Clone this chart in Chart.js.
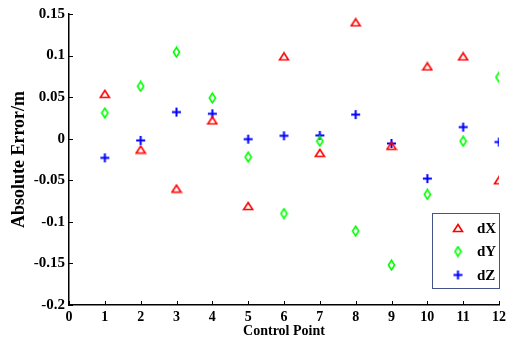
<!DOCTYPE html>
<html>
<head>
<meta charset="utf-8">
<script src="https://cdn.jsdelivr.net/npm/chart.js@4/dist/chart.umd.min.js"></script>
<style>
  html, body { margin: 0; padding: 0; background: #fff; }
  #chart { display: block; }
</style>
</head>
<body>
<canvas id="chart" width="507" height="342"></canvas>
<script>
const controlPoints = [1, 2, 3, 4, 5, 6, 7, 8, 9, 10, 11, 12]
const dX = [0.054, -0.013, -0.060, 0.022, -0.081, 0.099, -0.017, 0.140, -0.0085, 0.087, 0.099, -0.050]
const dY = [0.031, 0.063, 0.104, 0.049, -0.022, -0.090, -0.003, -0.111, -0.152, -0.067, -0.003, 0.074]
const dZ = [-0.023, -0.002, 0.032, 0.030, -0.0005, 0.0035, 0.004, 0.029, -0.0057, -0.048, 0.014, -0.004]
const seriesNames = ["dX", "dY", "dZ"]
const xTicks = [0, 1, 2, 3, 4, 5, 6, 7, 8, 9, 10, 11, 12]
const yTicks = [-0.2, -0.15, -0.1, -0.05, 0, 0.05, 0.1, 0.15]

const font = "'Liberation Serif', 'Times New Roman', serif"

// marker images, drawn once
function makeMarker(w, h, draw) {
  const c = document.createElement("canvas")
  c.width = w
  c.height = h
  draw(c.getContext("2d"))
  return c
}

const triangle = makeMarker(12, 10, ctx => {
  ctx.strokeStyle = "#ff0000"
  ctx.lineWidth = 1.6
  ctx.beginPath()
  ctx.moveTo(6, 1.5)
  ctx.lineTo(10.5, 8.5)
  ctx.lineTo(1.5, 8.5)
  ctx.closePath()
  ctx.stroke()
})

const diamond = makeMarker(9, 12, ctx => {
  ctx.strokeStyle = "#00ff00"
  ctx.lineWidth = 1.6
  ctx.beginPath()
  ctx.moveTo(4.5, 1.2)
  ctx.lineTo(7.6, 6)
  ctx.lineTo(4.5, 10.8)
  ctx.lineTo(1.4, 6)
  ctx.closePath()
  ctx.stroke()
})

const plus = makeMarker(11, 11, ctx => {
  ctx.strokeStyle = "#0000ff"
  ctx.lineWidth = 2
  ctx.beginPath()
  ctx.moveTo(1, 5.5)
  ctx.lineTo(10, 5.5)
  ctx.moveTo(5.5, 1)
  ctx.lineTo(5.5, 10)
  ctx.stroke()
})

const markers = [triangle, diamond, plus]

function toPoints(values) {
  return controlPoints.map((x, i) => ({ x: x, y: values[i] }))
}

// ticks pointing into the plot
const innerTicks = {
  id: "innerTicks",
  afterDraw(chart) {
    const ctx = chart.ctx
    const xs = chart.scales.x
    const ys = chart.scales.y
    ctx.save()
    ctx.strokeStyle = "#000"
    ctx.lineWidth = 1
    ctx.beginPath()
    xs.ticks.forEach((t, i) => {
      const px = Math.round(xs.getPixelForTick(i)) + 0.5
      ctx.moveTo(px, xs.top)
      ctx.lineTo(px, xs.top - 4)
    })
    ys.ticks.forEach((t, i) => {
      const py = Math.round(ys.getPixelForTick(i)) + 0.5
      ctx.moveTo(ys.right, py)
      ctx.lineTo(ys.right + 4, py)
    })
    ctx.stroke()
    ctx.restore()
  }
}

// legend box inside the plot, lower right
const boxLegend = {
  id: "boxLegend",
  afterDraw(chart) {
    const ctx = chart.ctx
    const area = chart.chartArea
    const left = area.right - 67
    const top = area.bottom - 92
    ctx.save()
    ctx.fillStyle = "#fff"
    ctx.fillRect(left, top, 67, 75)
    ctx.strokeStyle = "#44548a"
    ctx.lineWidth = 1
    ctx.strokeRect(left + 0.5, top + 0.5, 67, 75)
    ctx.font = "bold 15px " + font
    ctx.fillStyle = "#000"
    ctx.textBaseline = "middle"
    seriesNames.forEach((name, i) => {
      const cy = top + 15 + i * 23.5
      const m = markers[i]
      ctx.drawImage(m, left + 26 - m.width / 2, cy - m.height / 2)
      ctx.fillText(name, left + 45, cy + 1)
    })
    ctx.restore()
  }
}

new Chart(document.getElementById("chart"), {
  type: "scatter",
  data: {
    datasets: [dX, dY, dZ].map((values, i) => ({
      label: seriesNames[i],
      data: toPoints(values),
      pointStyle: markers[i],
      pointRadius: 5,
      showLine: false
    }))
  },
  options: {
    responsive: false,
    animation: false,
    events: [],
    layout: { padding: { left: 0, right: 8, top: 14, bottom: 0 } },
    plugins: {
      legend: { display: false },
      tooltip: { enabled: false }
    },
    scales: {
      x: {
        type: "linear",
        min: 0,
        max: 12,
        afterBuildTicks: s => { s.ticks = xTicks.map(v => ({ value: v })) },
        afterFit: s => {
          s.height = 37
          s.paddingLeft = 0
          s.paddingRight = 0
        },
        grid: { display: true, drawOnChartArea: false, drawTicks: false },
        border: { display: true, color: "#000", width: 1.5 },
        ticks: {
          padding: 4,
          color: "#000",
          font: { family: font, size: 14, weight: "bold" },
          maxRotation: 0,
          callback: v => String(v)
        },
        title: {
          display: true,
          text: "Control Point",
          color: "#000",
          font: { family: font, size: 14, weight: "bold" },
          padding: { top: 0, bottom: 2 }
        }
      },
      y: {
        type: "linear",
        min: -0.2,
        max: 0.15,
        afterBuildTicks: s => { s.ticks = yTicks.map(v => ({ value: v })) },
        afterFit: s => { s.width = 69 },
        grid: { display: true, drawOnChartArea: false, drawTicks: false },
        border: { display: true, color: "#000", width: 1.5 },
        ticks: {
          padding: 4,
          color: "#000",
          font: { family: font, size: 15, weight: "bold" },
          callback: v => String(Math.round(v * 100) / 100)
        },
        title: {
          display: true,
          text: "Absolute Error/m",
          color: "#000",
          font: { family: font, size: 18, weight: "bold" },
          padding: { top: 9, bottom: 0 }
        }
      }
    }
  },
  plugins: [innerTicks, boxLegend]
})
</script>
</body>
</html>
